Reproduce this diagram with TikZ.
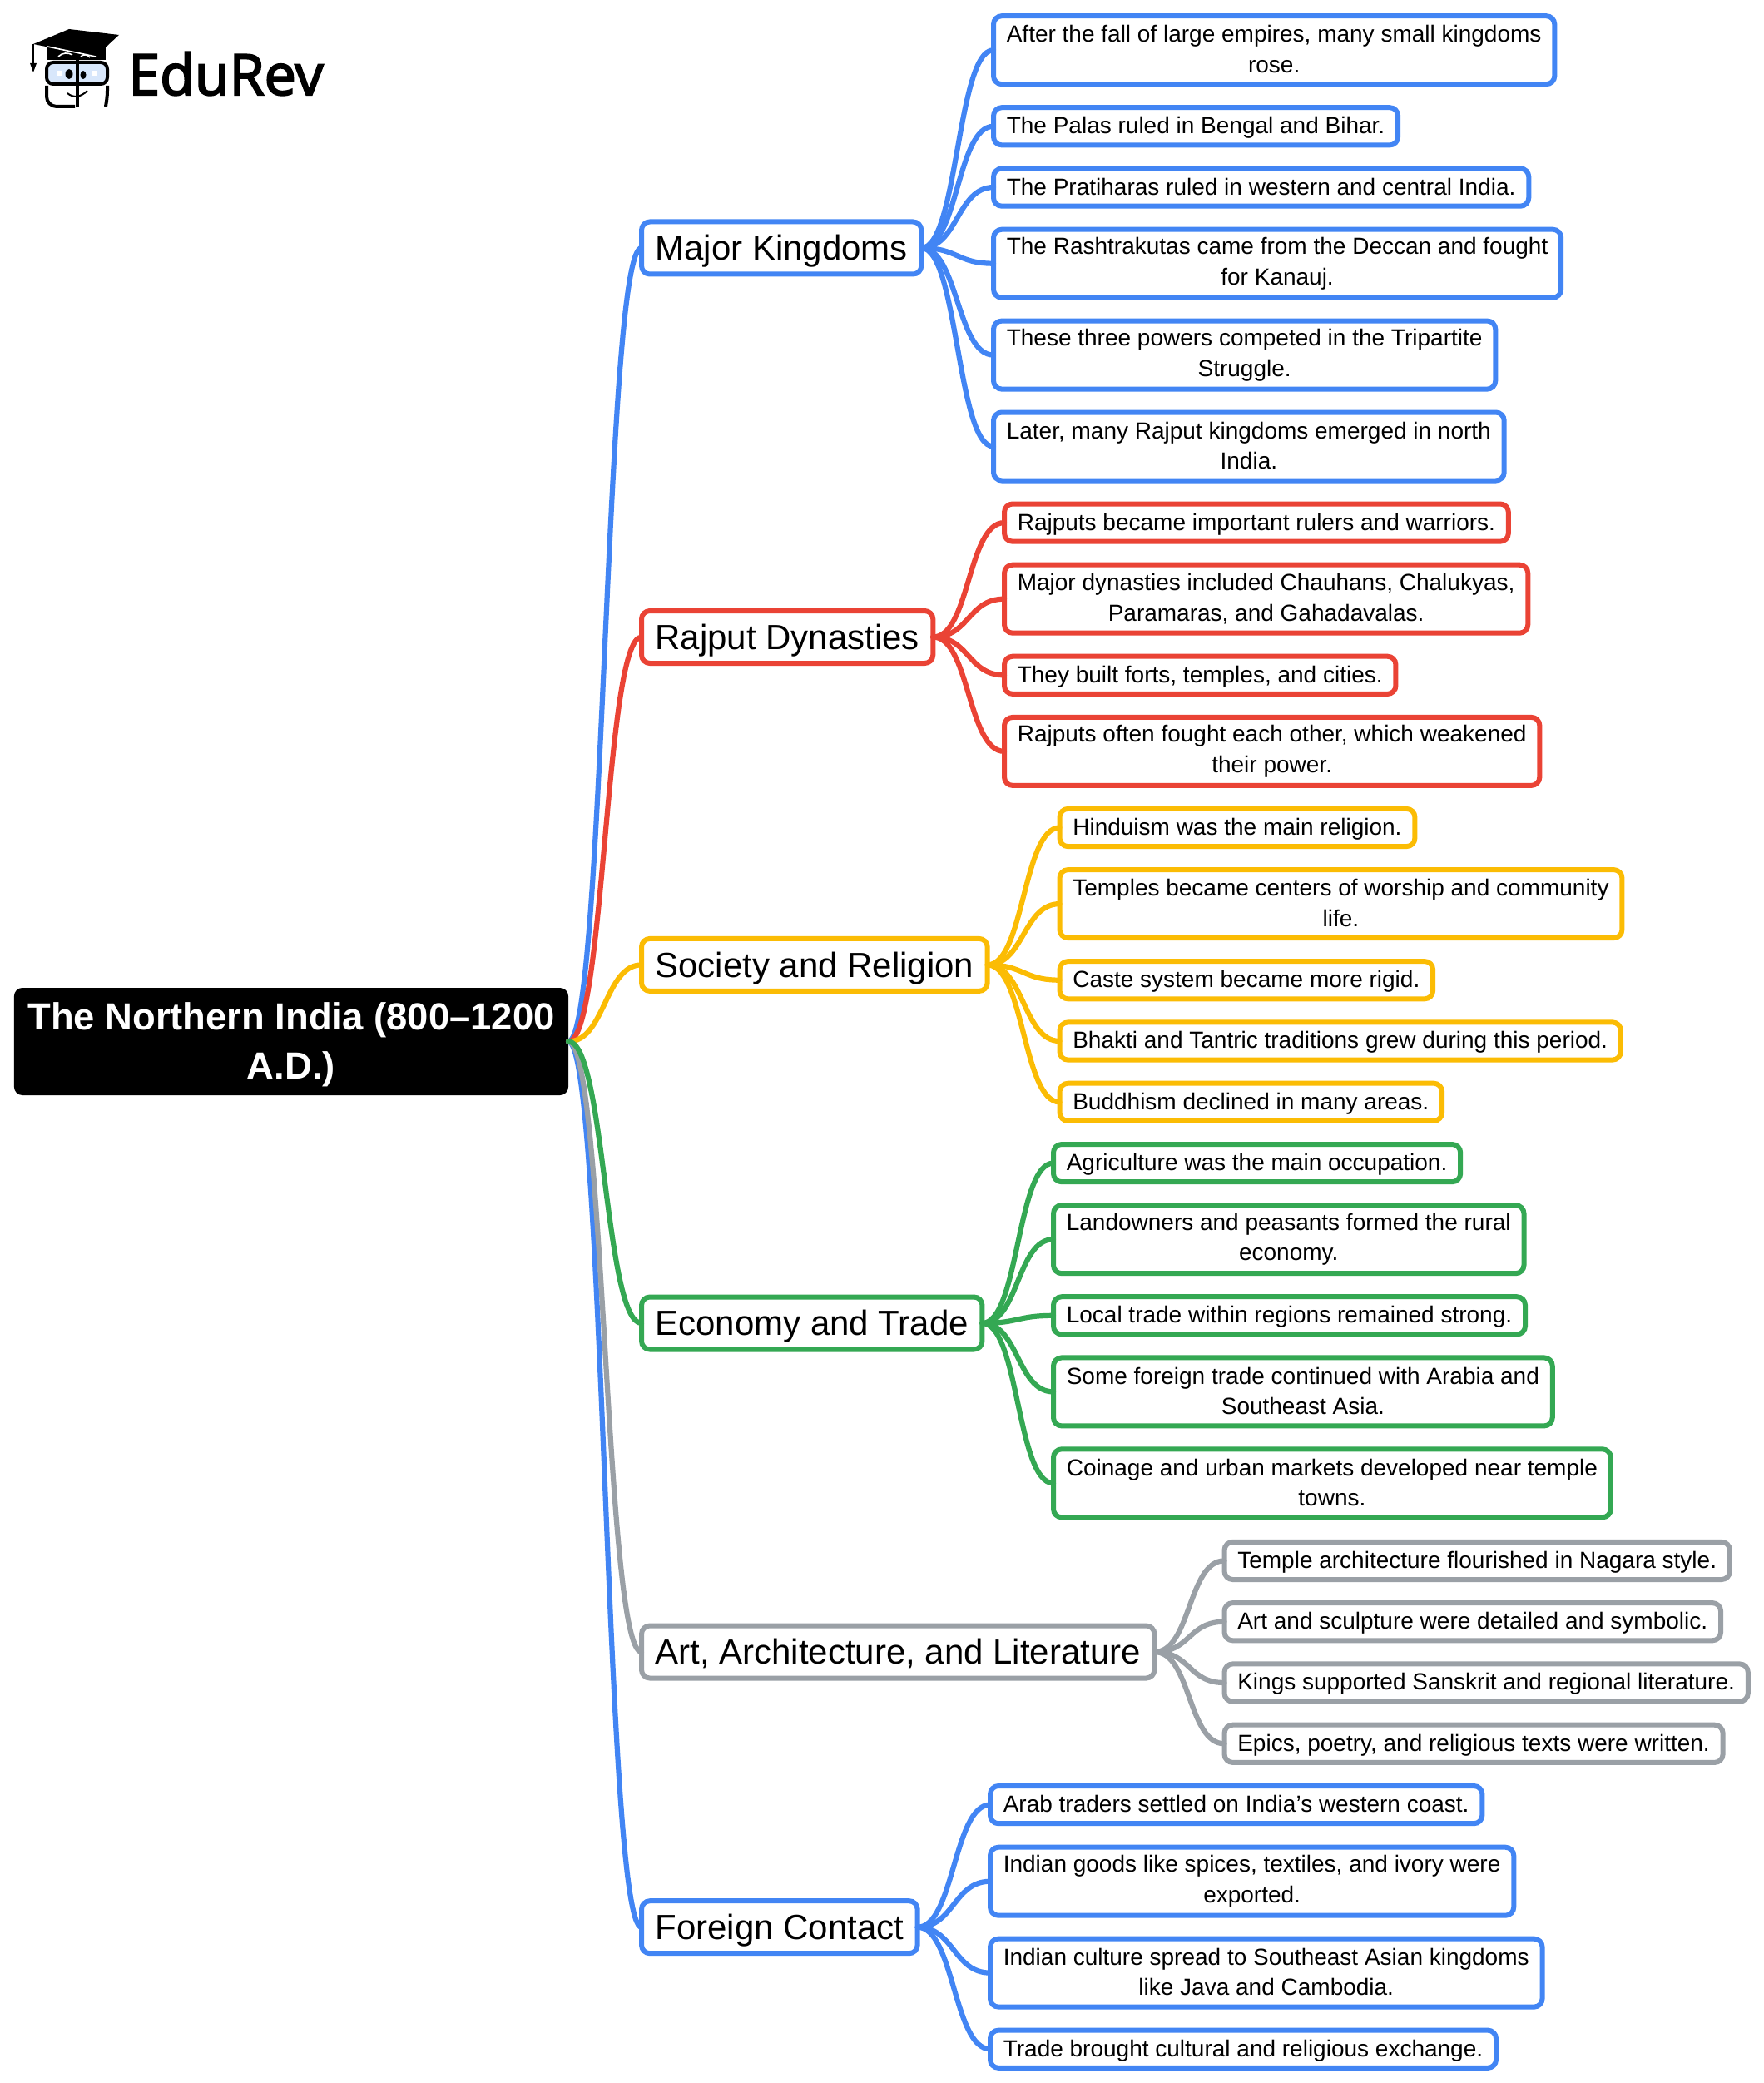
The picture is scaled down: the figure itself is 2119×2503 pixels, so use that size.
\documentclass[tikz,border=0pt]{standalone}
\usepackage{fontspec}
\setmainfont{Liberation Sans}
\newfontfamily\logofont[FakeBold=3]{Open Sans}

\definecolor{kingblue}{HTML}{4285F4}
\definecolor{rajred}{HTML}{EA4335}
\definecolor{socyellow}{HTML}{FBBC04}
\definecolor{econgreen}{HTML}{34A853}
\definecolor{artgray}{HTML}{9AA0A6}
\definecolor{lensblue}{HTML}{D8E7FB}

\def\Lowered#1{\raisebox{-12pt}[0pt][0pt]{#1}}

\tikzset{
  lift/.code={\def\Lift{#1}},
  struts/.style={
    execute at begin node={\rule{0pt}{\dimexpr.7\baselineskip+\Lift\relax}},
    execute at end node={\rule[\dimexpr-.3\baselineskip+\Lift\relax]{0pt}{\dimexpr.3\baselineskip-\Lift\relax}}},
  rootbox/.style={struts, lift=0pt, fill=black, text=white, rounded corners=5pt, outer sep=0pt,
    inner xsep=8.2pt, inner ysep=0pt, minimum height=64.5pt, align=center, anchor=east,
    font=\fontsize{22.7}{29.5}\selectfont\bfseries},
  branchbox/.style={struts, lift=2.4pt, draw=#1, line width=3pt, rounded corners=5pt, outer sep=0pt,
    inner xsep=8.2pt, inner ysep=0pt, minimum height=31.5pt, anchor=west,
    font=\fontsize{21}{25}\selectfont},
  leafbox/.style={struts, lift=0.8pt, draw=#1, line width=3pt, rounded corners=5pt, outer sep=0pt,
    inner xsep=7.9pt, inner ysep=0pt, minimum height=22.6pt, align=center, anchor=west,
    font=\fontsize{14}{18.3}\selectfont},
  twolines/.style={lift=4.4pt, minimum height=41pt},
  link/.style={draw=#1, line width=3.1pt, line cap=round}
}

\begin{document}
\begin{tikzpicture}[x=0.5pt, y=-0.5pt]

  % Fix the page size
  \useasboundingbox (0,0) rectangle (2119,2503);

  % Half the gap between a parent and its children
  \def\Bend{44}

  % Logo: cap and tassel
  \fill (40,53) -- (83,35) -- (143,42) -- (115,68) -- cycle;
  \fill (57,57) -- (57,72) -- (127,72) -- (127,57) -- cycle;
  \draw[white, line width=0.8pt] (57,56) -- (115,68);
  \draw[white, line width=0.8pt] (70,68) .. controls (75,63) and (82,63) .. (87,66);
  \draw[white, line width=0.8pt] (97,68) .. controls (100,65) and (105,65) .. (108,69);
  \draw[line width=1pt] (39.5,53) -- (39.5,76);
  \fill (36,76) -- (44,76) -- (40,87) -- cycle;

  % Logo: glasses and face
  \draw[line width=2pt, fill=lensblue, rounded corners=4pt] (56,75) rectangle (129,101);
  \draw[line width=2pt, rounded corners=6pt] (90,128) -- (56,128) -- (56,103);
  \draw[line width=2pt, rounded corners=3pt] (129,103) -- (129,115) -- (127,128);
  \draw[line width=2pt] (93,72) -- (93,128);
  \fill (83,89) ellipse (4.5 and 6);
  \fill (100,90) ellipse (3.5 and 5);
  \fill[white] (69,85) rectangle (75,91);
  \fill[white] (110,85) rectangle (116,91);
  \draw[line width=1pt] (81,112) .. controls (88,118) and (97,117) .. (105,109);

  % Logo: name
  \node[anchor=base west, inner sep=0pt, font=\fontsize{34}{40}\logofont] (logotext) at (154,114) {EduRev};

  % The root
  \node[rootbox] (root) at (683,1251.5) {\Lowered{The Northern India (800--1200}\\\Lowered{A.D.)}};

  % Main branches
  \node[branchbox=kingblue] (kingdoms) at (771,298) {Major Kingdoms};
  \node[branchbox=rajred] (rajput) at (771,765.5) {Rajput Dynasties};
  \node[branchbox=socyellow] (society) at (771,1159.4) {Society and Religion};
  \node[branchbox=econgreen] (economy) at (771,1590) {Economy and Trade};
  \node[branchbox=artgray] (art) at (771,1985) {Art, Architecture, and Literature};
  \node[branchbox=kingblue] (foreign) at (771,2315.7) {Foreign Contact};

  % Leaves of Major Kingdoms
  \node[leafbox=kingblue, twolines] (kingA) at (1194,60.2) {After the fall of large empires, many small kingdoms\\rose.};
  \node[leafbox=kingblue] (kingB) at (1194,151.8) {The Palas ruled in Bengal and Bihar.};
  \node[leafbox=kingblue] (kingC) at (1194,225.1) {The Pratiharas ruled in western and central India.};
  \node[leafbox=kingblue, twolines] (kingD) at (1194,316.7) {The Rashtrakutas came from the Deccan and fought\\for Kanauj.};
  \node[leafbox=kingblue, twolines] (kingE) at (1194,426.6) {These three powers competed in the Tripartite\\Struggle.};
  \node[leafbox=kingblue, twolines] (kingF) at (1194,536.5) {Later, many Rajput kingdoms emerged in north\\India.};

  % Leaves of Rajput Dynasties
  \node[leafbox=rajred] (rajA) at (1207,628.1) {Rajputs became important rulers and warriors.};
  \node[leafbox=rajred, twolines] (rajB) at (1207,719.7) {Major dynasties included Chauhans, Chalukyas,\\Paramaras, and Gahadavalas.};
  \node[leafbox=rajred] (rajC) at (1207,811.3) {They built forts, temples, and cities.};
  \node[leafbox=rajred, twolines] (rajD) at (1207,902.9) {Rajputs often fought each other, which weakened\\their power.};

  % Leaves of Society and Religion
  \node[leafbox=socyellow] (socA) at (1273.5,994.5) {Hinduism was the main religion.};
  \node[leafbox=socyellow, twolines] (socB) at (1273.5,1086.1) {Temples became centers of worship and community\\life.};
  \node[leafbox=socyellow] (socC) at (1273.5,1177.7) {Caste system became more rigid.};
  \node[leafbox=socyellow] (socD) at (1273.5,1251) {Bhakti and Tantric traditions grew during this period.};
  \node[leafbox=socyellow] (socE) at (1273.5,1324.3) {Buddhism declined in many areas.};

  % Leaves of Economy and Trade
  \node[leafbox=econgreen] (econA) at (1266,1397.6) {Agriculture was the main occupation.};
  \node[leafbox=econgreen, twolines] (econB) at (1266,1489.2) {Landowners and peasants formed the rural\\economy.};
  \node[leafbox=econgreen] (econC) at (1266,1580.8) {Local trade within regions remained strong.};
  \node[leafbox=econgreen, twolines] (econD) at (1266,1672.4) {Some foreign trade continued with Arabia and\\Southeast Asia.};
  \node[leafbox=econgreen, twolines] (econE) at (1266,1782.3) {Coinage and urban markets developed near temple\\towns.};

  % Leaves of Art, Architecture, and Literature
  \node[leafbox=artgray] (artA) at (1471.5,1875.4) {Temple architecture flourished in Nagara style.};
  \node[leafbox=artgray] (artB) at (1471.5,1948.7) {Art and sculpture were detailed and symbolic.};
  \node[leafbox=artgray] (artC) at (1471.5,2022) {Kings supported Sanskrit and regional literature.};
  \node[leafbox=artgray] (artD) at (1471.5,2095.3) {Epics, poetry, and religious texts were written.};

  % Leaves of Foreign Contact
  \node[leafbox=kingblue] (forA) at (1190,2168.6) {Arab traders settled on India’s western coast.};
  \node[leafbox=kingblue, twolines] (forB) at (1190,2260.7) {Indian goods like spices, textiles, and ivory were\\exported.};
  \node[leafbox=kingblue, twolines] (forC) at (1190,2370.6) {Indian culture spread to Southeast Asian kingdoms\\like Java and Cambodia.};
  \node[leafbox=kingblue] (forD) at (1190,2462.2) {Trade brought cultural and religious exchange.};

  % Links from the root (the lower ones lie over each other from the outside in)
  \draw[link=kingblue] (root.east) .. controls +(\Bend,0) and +(-\Bend,0) .. (kingdoms.west);
  \draw[link=rajred] (root.east) .. controls +(\Bend,0) and +(-\Bend,0) .. (rajput.west);
  \draw[link=socyellow] (root.east) .. controls +(\Bend,0) and +(-\Bend,0) .. (society.west);
  \draw[link=kingblue] (root.east) .. controls +(\Bend,0) and +(-\Bend,0) .. (foreign.west);
  \draw[link=artgray] (root.east) .. controls +(\Bend,0) and +(-\Bend,0) .. (art.west);
  \draw[link=econgreen] (root.east) .. controls +(\Bend,0) and +(-\Bend,0) .. (economy.west);

  % Links of Major Kingdoms
  \draw[link=kingblue] (kingdoms.east) .. controls +(\Bend,0) and +(-\Bend,0) .. (kingA.west);
  \draw[link=kingblue] (kingdoms.east) .. controls +(\Bend,0) and +(-\Bend,0) .. (kingB.west);
  \draw[link=kingblue] (kingdoms.east) .. controls +(\Bend,0) and +(-\Bend,0) .. (kingC.west);
  \draw[link=kingblue] (kingdoms.east) .. controls +(\Bend,0) and +(-\Bend,0) .. (kingD.west);
  \draw[link=kingblue] (kingdoms.east) .. controls +(\Bend,0) and +(-\Bend,0) .. (kingE.west);
  \draw[link=kingblue] (kingdoms.east) .. controls +(\Bend,0) and +(-\Bend,0) .. (kingF.west);

  % Links of Rajput Dynasties
  \draw[link=rajred] (rajput.east) .. controls +(\Bend,0) and +(-\Bend,0) .. (rajA.west);
  \draw[link=rajred] (rajput.east) .. controls +(\Bend,0) and +(-\Bend,0) .. (rajB.west);
  \draw[link=rajred] (rajput.east) .. controls +(\Bend,0) and +(-\Bend,0) .. (rajC.west);
  \draw[link=rajred] (rajput.east) .. controls +(\Bend,0) and +(-\Bend,0) .. (rajD.west);

  % Links of Society and Religion
  \draw[link=socyellow] (society.east) .. controls +(\Bend,0) and +(-\Bend,0) .. (socA.west);
  \draw[link=socyellow] (society.east) .. controls +(\Bend,0) and +(-\Bend,0) .. (socB.west);
  \draw[link=socyellow] (society.east) .. controls +(\Bend,0) and +(-\Bend,0) .. (socC.west);
  \draw[link=socyellow] (society.east) .. controls +(\Bend,0) and +(-\Bend,0) .. (socD.west);
  \draw[link=socyellow] (society.east) .. controls +(\Bend,0) and +(-\Bend,0) .. (socE.west);

  % Links of Economy and Trade
  \draw[link=econgreen] (economy.east) .. controls +(\Bend,0) and +(-\Bend,0) .. (econA.west);
  \draw[link=econgreen] (economy.east) .. controls +(\Bend,0) and +(-\Bend,0) .. (econB.west);
  \draw[link=econgreen] (economy.east) .. controls +(\Bend,0) and +(-\Bend,0) .. (econC.west);
  \draw[link=econgreen] (economy.east) .. controls +(\Bend,0) and +(-\Bend,0) .. (econD.west);
  \draw[link=econgreen] (economy.east) .. controls +(\Bend,0) and +(-\Bend,0) .. (econE.west);

  % Links of Art, Architecture, and Literature
  \draw[link=artgray] (art.east) .. controls +(\Bend,0) and +(-\Bend,0) .. (artA.west);
  \draw[link=artgray] (art.east) .. controls +(\Bend,0) and +(-\Bend,0) .. (artB.west);
  \draw[link=artgray] (art.east) .. controls +(\Bend,0) and +(-\Bend,0) .. (artC.west);
  \draw[link=artgray] (art.east) .. controls +(\Bend,0) and +(-\Bend,0) .. (artD.west);

  % Links of Foreign Contact
  \draw[link=kingblue] (foreign.east) .. controls +(\Bend,0) and +(-\Bend,0) .. (forA.west);
  \draw[link=kingblue] (foreign.east) .. controls +(\Bend,0) and +(-\Bend,0) .. (forB.west);
  \draw[link=kingblue] (foreign.east) .. controls +(\Bend,0) and +(-\Bend,0) .. (forC.west);
  \draw[link=kingblue] (foreign.east) .. controls +(\Bend,0) and +(-\Bend,0) .. (forD.west);

\end{tikzpicture}
\end{document}
